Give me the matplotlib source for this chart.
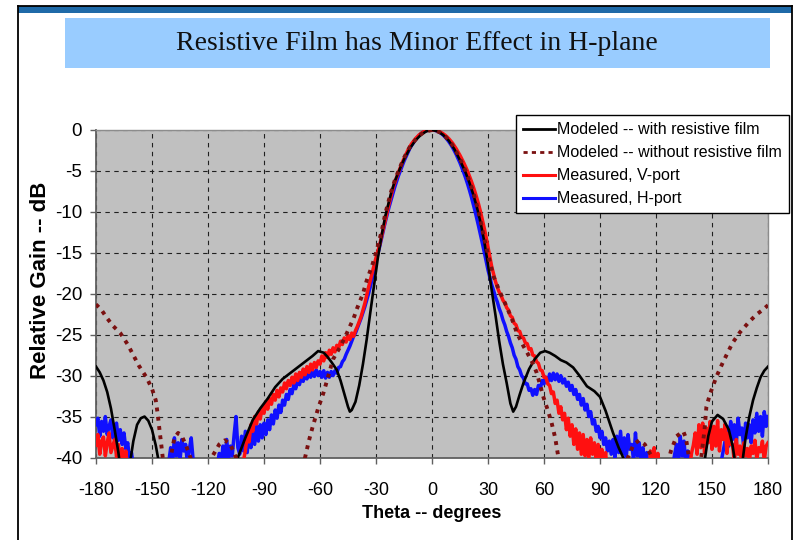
import matplotlib.pyplot as plt
from matplotlib.patches import Rectangle
from matplotlib.lines import Line2D
import numpy as np

plt.rcParams['font.family'] = ['Liberation Sans', 'DejaVu Sans']
plt.rcParams['axes.unicode_minus'] = False

W, H = 796, 540

# measured patterns, one value per degree from -180 to 180
theta_meas = np.arange(-180, 181)

v_port = [
    -38.5, -37.2, -39.6, -38.0, -37.5, -39.8, -38.2, -37.0, -39.4, -38.6,
    -37.8, -39.9, -38.4, -40.6, -38.9, -41.5, -39.2, -42.0, -40.8, -43.0,
    -44, -46, -45, -47, -46, -48, -47, -49, -48, -50,
    -49, -50, -48, -49, -47, -48, -49, -50, -48, -49,
    -48, -49, -47, -48, -46, -47, -48, -47, -46, -48,
    -47, -48, -46, -47, -48, -46, -47, -45, -46, -47,
    -46, -47, -45, -46, -44, -45, -46, -44, -45, -43,
    -44, -43, -44, -42, -43, -41.5, -42.5, -41, -41.8, -40.4,
    -39.2, -37.4, -38.1, -36.0, -36.8, -35.0, -35.9, -34.4, -35.3, -33.9,
    -34.6, -33.2, -34.1, -32.8, -33.5, -32.3, -33.0, -31.8, -32.6, -31.5,
    -32.0, -30.9, -31.6, -30.6, -31.2, -30.2, -30.9, -29.8, -30.6, -29.6,
    -30.2, -29.2, -29.9, -28.9, -29.6, -28.6, -29.3, -28.4, -29.0, -28.2,
    -28.6, -27.6, -28.2, -27.2, -27.8, -26.9, -27.4, -26.6, -27.1, -26.3,
    -26.6, -25.8, -26.2, -25.4, -25.9, -25.1, -25.6, -24.8, -25.2, -24.5,
    -24.0, -23.4, -22.8, -22.0, -21.2, -20.2, -19.2, -18.3, -17.4, -16.5,
    -15.6, -14.8, -14.0, -13.0, -12.0, -11.0, -10.0, -9.0, -8.1, -7.2,
    -6.5, -5.8, -5.2, -4.6, -4.0, -3.5, -3.0, -2.5, -2.1, -1.7,
    -1.4, -1.1, -0.85, -0.62, -0.43, -0.28, -0.16, -0.07, -0.02, 0.0,
    0.0,
    -0.02, -0.05, -0.11, -0.2, -0.32, -0.46, -0.63, -0.83, -1.06, -1.32,
    -1.6, -1.95, -2.3, -2.7, -3.1, -3.55, -4.0, -4.5, -5.0, -5.6,
    -6.2, -6.85, -7.55, -8.3, -9.1, -10.0, -11.0, -12.0, -13.1, -14.3,
    -15.5, -16.7, -17.6, -18.5, -19.2, -19.8, -20.2, -20.8, -21.1, -21.7,
    -22.0, -22.7, -22.9, -23.6, -23.8, -24.5, -24.6, -25.3, -25.4, -26.0,
    -26.1, -26.8, -26.7, -27.5, -27.6, -28.3, -28.5, -29.3, -29.4, -30.2,
    -30.2, -31.0, -31.2, -32.2, -32.0, -33.4, -33.0, -34.6, -33.8, -35.4,
    -34.6, -36.6, -35.2, -37.4, -36.0, -38.4, -36.5, -39.0, -37.0, -39.6,
    -37.2, -39.8, -37.8, -40.2, -37.6, -39.6, -38.2, -40.5, -38.4, -40.8,
    -39.0, -41.2, -39.4, -42.0, -40.5, -43.0, -41.0, -44, -42, -45,
    -43, -46, -44, -47, -45, -47, -46, -48, -45, -47,
    -44, -46, -42, -45, -41, -44, -39.2, -42.5, -38.8, -41.8,
    -39.5, -43, -41, -45, -44, -47, -46, -48, -47, -48,
    -47, -48, -46, -47, -45, -44, -43, -41.5, -39.5, -38.5,
    -37.0, -39.6, -36.0, -38.8, -35.8, -39.4, -36.4, -38.2, -35.6, -39.0,
    -36.2, -38.6, -35.5, -39.2, -36.6, -37.8, -35.9, -39.5, -37.0, -38.4,
    -38.4, -40.6, -37.8, -39.6, -38.6, -41.0, -38.2, -39.8, -38.9, -40.5,
    -38.6, -39.5, -37.9, -40.2, -38.8, -39.3, -38.0, -40.4, -38.6, -38.2,
]

h_port = [
    -36.0, -35.2, -37.4, -35.6, -36.8, -35.0, -37.2, -36.2, -35.4, -37.6,
    -36.4, -35.8, -37.9, -36.6, -38.4, -37.0, -39.0, -38.2, -40.4, -39.4,
    -41, -43, -42, -44, -43, -45, -46, -45, -47, -46,
    -46, -47, -45, -46, -44, -43, -42, -44, -41.5, -40.5,
    -38.8, -40.6, -37.6, -39.8, -38.2, -40.4, -37.8, -39.2, -38.4, -40.8,
    -39.0, -37.6, -40.2, -41.5, -43, -44, -45, -44, -46, -45,
    -46, -45, -44, -43.5, -42, -41.0, -39.5, -41.2, -38.6, -40.4,
    -37.8, -40.2, -38.6, -39.8, -37.2, -35.0, -38.8, -39.6, -37.4, -39.2,
    -36.8, -39.4, -37.0, -38.8, -36.4, -38.4, -36.2, -38.0, -36.0, -37.6,
    -35.8, -37.2, -35.4, -36.6, -34.8, -35.9, -34.2, -35.2, -33.6, -34.5,
    -33.0, -33.6, -32.3, -32.9, -31.7, -32.2, -31.1, -31.6, -30.6, -31.1,
    -30.2, -30.7, -29.8, -30.4, -29.5, -30.2, -29.4, -30.1, -29.3, -30.0,
    -29.5, -30.2, -29.4, -30.3, -29.6, -30.2, -29.5, -30.0, -29.4, -29.7,
    -29.0, -28.9, -28.3, -28.0, -27.4, -26.9, -26.4, -25.8, -25.2, -24.8,
    -24.2, -23.6, -23.0, -22.3, -21.6, -20.8, -20.0, -19.1, -18.1, -17.1,
    -16.1, -15.1, -14.2, -13.2, -12.2, -11.2, -10.3, -9.4, -8.6, -7.8,
    -7.0, -6.3, -5.6, -5.0, -4.4, -3.8, -3.3, -2.8, -2.3, -1.9,
    -1.55, -1.22, -0.93, -0.68, -0.47, -0.3, -0.17, -0.08, -0.02, 0.0,
    0.0,
    -0.02, -0.07, -0.15, -0.27, -0.43, -0.62, -0.85, -1.12, -1.42, -1.76,
    -2.13, -2.55, -3.0, -3.5, -4.02, -4.6, -5.2, -5.85, -6.55, -7.3,
    -8.1, -8.95, -9.85, -10.8, -11.8, -12.8, -13.85, -14.9, -16.0, -17.1,
    -18.0, -18.9, -19.6, -20.4, -21.0, -21.8, -22.4, -23.2, -23.8, -24.6,
    -25.2, -26.0, -26.6, -27.5, -28.0, -28.9, -29.3, -30.0, -30.3, -31.0,
    -31.0, -31.8, -31.6, -32.4, -31.7, -32.3, -31.2, -31.6, -30.6, -31.0,
    -30.2, -30.8, -29.8, -30.6, -29.7, -30.5, -29.8, -30.7, -30.0, -30.9,
    -30.4, -31.3, -30.8, -31.8, -31.2, -32.3, -31.7, -32.9, -32.3, -33.6,
    -32.8, -34.2, -33.5, -35.0, -34.4, -35.9, -35.4, -36.8, -36.2, -37.6,
    -36.8, -38.4, -37.6, -39.2, -38.0, -39.6, -37.8, -40.0, -37.4, -39.4,
    -36.8, -39.6, -37.6, -40.2, -37.2, -39.0, -38.4, -40.4, -37.0, -39.8,
    -38.2, -40.6, -38.8, -41.2, -39.4, -42.0, -40.8, -43.0, -42, -44,
    -45, -46, -45, -47, -46, -45, -44, -42.5, -41.0, -39.6,
    -38.4, -40.6, -37.4, -39.8, -38.0, -40.8, -39.2, -41.5, -43, -45,
    -46, -47, -46, -48, -47, -46, -45, -44, -46, -45,
    -44, -43, -42, -41.5, -40.4, -39.2, -38.0, -36.2, -38.6, -35.6,
    -37.8, -36.0, -38.4, -35.2, -37.2, -36.4, -38.8, -35.8, -37.6, -36.0,
    -38.2, -35.4, -37.0, -34.6, -36.8, -35.0, -37.4, -34.4, -36.2, -35.0,
]

# modeled patterns
film_theta = [-180, -178, -176, -174, -172, -170, -168, -166, -164, -162,
              -160, -158, -156, -154, -152, -150, -148, -146, -144, -140,
              -110, -106, -104, -100, -96, -92, -88, -84, -80, -76,
              -72, -68, -64, -61, -58, -56, -54, -51, -49, -47,
              -45, -44, -43, -41, -39, -37, -35, -33, -31, -29,
              -27, -25, -22, -20, -17.5, -15, -12, -9, -6, -3,
              0, 3, 6, 9, 12, 15, 18, 20, 22, 24,
              26, 28, 30, 32, 34, 36, 38, 40, 42, 43.5,
              45, 47, 49, 52, 55, 58, 60.6, 63, 66, 69,
              72, 75.6, 79, 83, 87, 90, 93, 97, 100, 102,
              104, 108, 140, 144, 146, 148, 150, 153, 156, 159,
              161, 163, 165, 166, 168, 170, 172, 174, 176, 178, 180]
film_db = [-28.9, -29.6, -30.6, -32.0, -34.0, -36.6, -39.4, -43, -45, -41,
           -38.0, -36.0, -35.2, -35.0, -35.5, -36.6, -38.5, -41, -45, -50,
           -46, -42, -40, -37.6, -35.4, -34.0, -32.8, -31.4, -30.4, -29.7,
           -29.0, -28.3, -27.6, -27.0, -27.2, -27.7, -28.3, -29.3, -30.6, -32.2,
           -33.8, -34.4, -34.2, -33.2, -31.2, -28.6, -25.6, -22.2, -18.9, -15.6,
           -12.9, -10.5, -7.8, -6.3, -4.9, -3.6, -2.3, -1.3, -0.6, -0.15,
           0.0, -0.15, -0.6, -1.3, -2.35, -3.7, -5.2, -6.4, -7.8, -9.4,
           -11.3, -13.6, -16.4, -19.6, -22.6, -25.8, -28.6, -30.9, -33.4, -34.4,
           -33.8, -32.3, -30.9, -29.2, -28.0, -27.2, -27.0, -27.2, -27.6, -28.1,
           -28.4, -29.0, -30.0, -31.3, -31.9, -32.6, -34.3, -37.0, -38.8, -39.8,
           -41, -44, -48, -44, -40.5, -37.4, -35.6, -34.8, -35.3, -36.6,
           -38.5, -41.5, -43, -41, -37.6, -35.0, -33.0, -31.5, -30.2, -29.4, -28.9]

nofilm_theta = [-180, -177, -174, -171, -167, -163, -160, -157, -153, -150,
                -148, -147, -146, -145, -144, -142, -140, -138, -136, -134,
                -132, -130, -128, -126, -122, -118, -114, -111, -108, -105,
                -102, -96, -80, -72, -68, -66, -64, -61, -58, -55,
                -53, -49, -45.6, -42, -40, -37, -35, -32, -30, -27,
                -25, -22, -20, -18, -15, -12, -10, -7, -4, 0,
                4, 7, 10, 12, 15, 18, 20, 22, 25, 27,
                30, 33, 36, 40, 43, 45.5, 49, 51, 54, 56,
                58, 59.5, 62, 64, 66, 67.5, 69, 72, 80, 96,
                102, 105, 108, 111, 114, 118, 122, 126, 128, 131,
                134.6, 136, 137, 139, 142, 144, 145, 146, 147, 149,
                152.6, 156, 161, 165, 170, 174, 177, 180]
nofilm_db = [-21.3, -22.0, -23.0, -23.9, -24.8, -26.2, -27.5, -28.8, -30.2, -31.6,
             -33.0, -34.6, -36.6, -38.5, -40.5, -44, -40, -37.6, -37.0, -37.4,
             -38.4, -39.6, -41, -44, -42, -40, -38.4, -37.9, -38.4, -40,
             -43, -50, -55, -46, -40, -38, -36.3, -34.0, -32.0, -29.6,
             -28.0, -26.4, -24.8, -23.0, -21.7, -20.0, -18.4, -16.5, -15.0, -12.4,
             -10.2, -7.6, -6.2, -5.0, -3.4, -2.1, -1.5, -0.7, -0.22, 0.0,
             -0.25, -0.75, -1.55, -2.2, -3.5, -5.0, -6.2, -7.5, -10.0, -12.2,
             -15.2, -17.9, -19.6, -21.6, -23.2, -24.8, -26.4, -27.2, -28.5, -29.6,
             -31.2, -32.5, -34.2, -35.7, -37.6, -39.7, -42, -46, -55, -50,
             -43, -40, -38.4, -37.9, -38.4, -40, -42.5, -41, -39.2, -37.4,
             -36.8, -37.6, -39, -42, -44, -40.5, -38.5, -36.6, -33.8, -32.2,
             -30.0, -28.3, -26.0, -24.7, -23.4, -22.5, -22.0, -21.4]

x_ticks = list(range(-180, 181, 30))
y_ticks = list(range(-40, 1, 5))

fig = plt.figure(figsize=(W / 100, H / 100), dpi=100)

# slide decoration: frame, top bar and title box
def px_rect(x0, y0, x1, y1, **kw):
    return Rectangle((x0 / W, 1 - y1 / H), (x1 - x0) / W, (y1 - y0) / H,
                     transform=fig.transFigure, **kw)

fig.add_artist(px_rect(18, 6, 792, 13, facecolor='#1f6aa8', edgecolor='none'))
fig.add_artist(Line2D([18 / W, 18 / W], [0, 1 - 6 / H], transform=fig.transFigure,
                      color='black', lw=1.3))
fig.add_artist(Line2D([792 / W, 792 / W], [0, 1 - 6 / H], transform=fig.transFigure,
                      color='black', lw=1.3))
fig.add_artist(Line2D([18 / W, 792 / W], [1 - 6 / H, 1 - 6 / H], transform=fig.transFigure,
                      color='black', lw=1.3))
fig.add_artist(px_rect(65, 18, 770, 68, facecolor='#99ccff', edgecolor='none'))
fig.text(417 / W, 1 - 43 / H, 'Resistive Film has Minor Effect in H-plane',
         family=['Liberation Serif', 'DejaVu Serif'], fontsize=20,
         ha='center', va='center', color='#111111')

ax = fig.add_axes([96 / W, 1 - 457.5 / H, 672 / W, 327.5 / H])
ax.set_facecolor('#c0c0c0')

ax.plot(theta_meas, h_port, color='#1010ff', lw=2.5, zorder=3)
ax.plot(theta_meas, v_port, color='#ff1010', lw=2.5, zorder=3)
ax.plot(film_theta, film_db, color='black', lw=1.9, zorder=4)
ax.plot(nofilm_theta, nofilm_db, color='#7a1010', lw=2.8,
        linestyle=(0, (1, 1.4)), zorder=4)

ax.set_xlim(-180, 180)
ax.set_ylim(-40, 0)
ax.set_xticks(x_ticks)
ax.set_yticks(y_ticks)
ax.grid(True, color='#202020', lw=0.8, linestyle=(0, (4, 4)))
ax.set_axisbelow(True)
ax.tick_params(axis='x', length=4.5, width=1, color='#606060', pad=13,
               labelsize=13)
ax.tick_params(axis='y', length=4.5, width=1, color='#606060', pad=5.5,
               labelsize=13.5)
for side in ['top', 'right']:
    ax.spines[side].set_color('#8c8c8c')
    ax.spines[side].set_linewidth(1.0)
for side in ['left', 'bottom']:
    ax.spines[side].set_color('#606060')
    ax.spines[side].set_linewidth(1.3)

fig.text(432 / W, 1 - 513 / H, 'Theta -- degrees', fontsize=13, fontweight='bold',
         ha='center', va='center')
fig.text(41 / W, 1 - 280 / H, 'Relative Gain -- dB', fontsize=16, fontweight='bold',
         rotation=90, ha='center', va='center')

handles = [
    Line2D([], [], color='black', lw=2),
    Line2D([], [], color='#7a1010', lw=2, linestyle=(0, (1.5, 1.5))),
    Line2D([], [], color='#ff1010', lw=2.2),
    Line2D([], [], color='#1010ff', lw=2.2),
]
labels = ['Modeled -- with resistive film', 'Modeled -- without resistive film',
          'Measured, V-port', 'Measured, H-port']
leg = fig.legend(handles, labels, loc='upper right',
                 bbox_to_anchor=(789 / W, 1 - 115 / H), fontsize=11.5,
                 frameon=True, fancybox=False, edgecolor='black', framealpha=1,
                 borderpad=0.45, labelspacing=0.5, handlelength=2.0,
                 handletextpad=0.15, borderaxespad=0)
leg.get_frame().set_linewidth(1.0)

fig.savefig('out.png', dpi=100)
